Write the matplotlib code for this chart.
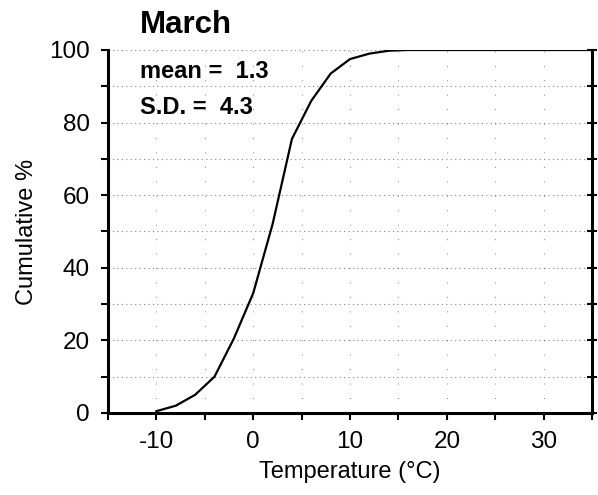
import matplotlib
matplotlib.use("Agg")
import matplotlib.pyplot as plt
from matplotlib.ticker import MultipleLocator

plt.rcParams["font.family"] = ["Liberation Sans", "DejaVu Sans"]
plt.rcParams["axes.unicode_minus"] = False

# cumulative distribution of March temperature
temp_c = [-10, -8, -6, -4, -2, 0, 2, 4, 6, 8, 10, 12, 14, 16, 20, 25, 30, 35]
cum_pct = [0.5, 2, 5, 10, 20.5, 33, 52, 75.5, 86, 93.5, 97.5, 99, 99.8, 100, 100, 100, 100, 100]

x_ticks = [-10, 0, 10, 20, 30]
y_ticks = [0, 20, 40, 60, 80, 100]
grid_y = [10, 20, 30, 40, 50, 60, 70, 80, 90, 100]
grid_x = [-10, -5, 0, 5, 10, 15, 20, 25, 30]

title = "March"
stats_lines = ["mean =  1.3", "S.D. =  4.3"]

fig = plt.figure(figsize=(5.98, 4.95), dpi=100)
ax = fig.add_axes([0.1806, 0.1657, 0.8094, 0.7333])

for gy in grid_y:
    ax.axhline(gy, color="#555555", lw=0.8, ls=(0, (1, 3)), alpha=0.7, zorder=1)
for gx in grid_x:
    ax.axvline(gx, color="#555555", lw=0.8, ls=(0, (1, 12)), alpha=0.6, zorder=1)

ax.plot(temp_c, cum_pct, color="black", lw=1.6, zorder=3)

ax.set_xlim(-15, 35)
ax.set_ylim(0, 100)
ax.set_xticks(x_ticks)
ax.set_yticks(y_ticks)
ax.xaxis.set_minor_locator(MultipleLocator(5))
ax.yaxis.set_minor_locator(MultipleLocator(10))
ax.tick_params(axis="both", which="both", length=5, width=1.5, labelsize=17.5, pad=8)

ax.spines["top"].set_visible(False)
for side in ("left", "right", "bottom"):
    ax.spines[side].set_linewidth(2.2)

# right-hand ticks cross the spine
ax_r = ax.twinx()
ax_r.set_ylim(0, 100)
ax_r.yaxis.set_major_locator(MultipleLocator(10))
ax_r.tick_params(axis="y", which="both", direction="inout", length=7, width=1.5, labelright=False)
for sp in ax_r.spines.values():
    sp.set_visible(False)

ax.set_xlabel("Temperature (\u00b0C)", fontsize=17, labelpad=6)
ax.set_ylabel("Cumulative %", fontsize=17, labelpad=8)

fig.text(140 / 598, 1 - 25 / 495, title, fontsize=22.5, fontweight="bold", va="center", ha="left")
fig.text(140 / 598, 1 - 72 / 495, stats_lines[0], fontsize=17, fontweight="bold", va="center", ha="left")
fig.text(140 / 598, 1 - 108 / 495, stats_lines[1], fontsize=17, fontweight="bold", va="center", ha="left")

fig.savefig("out.png", dpi=100)
